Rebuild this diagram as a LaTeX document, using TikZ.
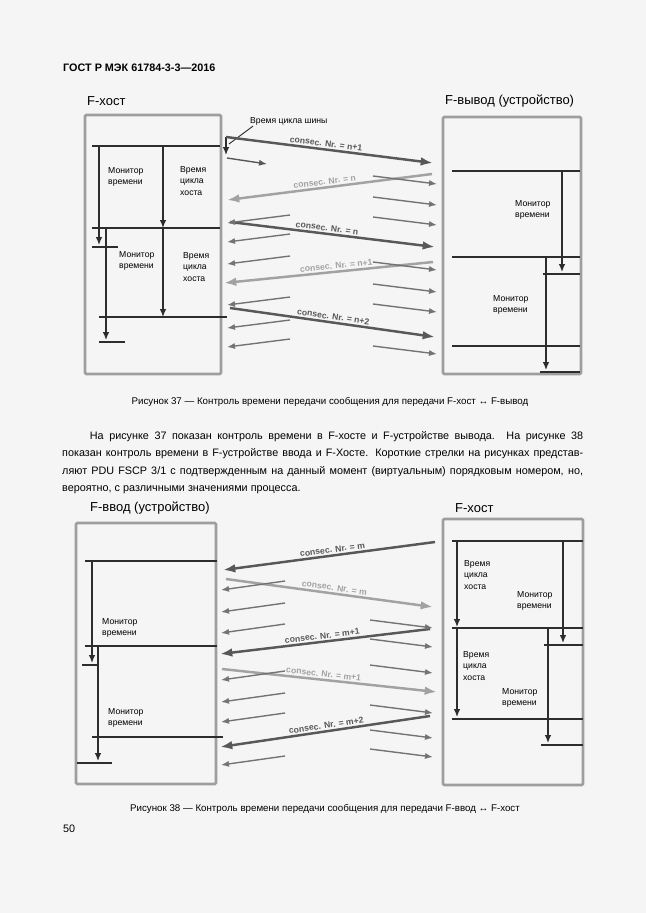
\documentclass[tikz,border=0pt]{standalone}
\usepackage{fontspec}
\setmainfont{Liberation Sans}
\usetikzlibrary{arrows.meta}

\definecolor{paper}{RGB}{245,245,245}
\definecolor{framegray}{RGB}{158,158,158}
\definecolor{inkdark}{RGB}{45,45,45}
\definecolor{msgdark}{RGB}{88,88,88}
\definecolor{msglight}{RGB}{162,162,162}
\definecolor{shortgray}{RGB}{115,115,115}

\begin{document}
\begin{tikzpicture}[x=0.325mm, y=-0.325mm,
  frame/.style={draw=framegray, line width=0.9mm, rounded corners=0.4mm},
  title/.style={font=\fontsize{12}{14}\selectfont, anchor=west, inner sep=0},
  bar/.style={draw=inkdark, line width=0.45mm},
  timer/.style={bar, -{Latex[length=2.6mm,width=2.2mm]}},
  lbl/.style={font=\fontsize{8}{10.5}\selectfont, align=left, anchor=west, inner sep=0},
  darkR/.style={draw=msgdark, line width=0.8mm, -{Latex[length=4mm,width=2.8mm]}},
  darkL/.style={draw=msgdark, line width=0.8mm, {Latex[length=4mm,width=2.8mm]}-},
  lightR/.style={draw=msglight, line width=0.8mm, -{Latex[length=4mm,width=2.8mm]}},
  lightL/.style={draw=msglight, line width=0.8mm, {Latex[length=4mm,width=2.8mm]}-},
  shortR/.style={draw=shortgray, line width=0.45mm, -{Latex[length=2.6mm,width=2mm]}},
  shortL/.style={draw=shortgray, line width=0.45mm, {Latex[length=2.6mm,width=2mm]}-},
  nr/.style={font=\bfseries\fontsize{8}{9.5}\selectfont, sloped, above=1pt, inner sep=0.5pt, text=msgdark},
  nrlight/.style={nr, text=msglight},
  capt/.style={font=\fontsize{9}{11}\selectfont, inner sep=0}
]
\useasboundingbox (0,0) rectangle (646,913);
\fill[paper] (0,0) rectangle (646,913);

\node[font=\bfseries\fontsize{10}{12}\selectfont, anchor=west, inner sep=0] (gost) at (63,68) {ГОСТ Р МЭК 61784-3-3—2016};

% figure 37
\node[title] (hostA) at (87,101) {F-хост};
\node[title] (outA) at (445,101) {F-вывод (устройство)};
\draw[frame] (85,115) rectangle (221,374);
\draw[frame] (443,117) rectangle (581,374);

% host side
\draw[bar] (92,146) -- (220,146);
\draw[timer] (99,146) -- (99,245);
\draw[bar] (92,247) -- (118,247);
\draw[timer] (163,146) -- (163,228);
\draw[bar] (92,228) -- (220,228);
\draw[timer] (106,228) -- (106,340);
\draw[bar] (99,342) -- (125,342);
\draw[timer] (163,228) -- (163,317);
\draw[bar] (99,317) -- (227,317);
\node[lbl] (monA1) at (108,177) {Монитор\\времени};
\node[lbl] (cycA1) at (180,181) {Время\\цикла\\хоста};
\node[lbl] (monA2) at (119,261) {Монитор\\времени};
\node[lbl] (cycA2) at (183,267) {Время\\цикла\\хоста};

% device side
\draw[bar] (452,171) -- (580,171);
\draw[timer] (562,171) -- (562,272);
\draw[bar] (543,274) -- (580,274);
\draw[bar] (452,257) -- (580,257);
\draw[timer] (546,257) -- (546,370);
\draw[bar] (540,372) -- (580,372);
\draw[bar] (452,346) -- (580,346);
\node[lbl] (monA3) at (515,210) {Монитор\\времени};
\node[lbl] (monA4) at (493,305) {Монитор\\времени};

% bus cycle
\node[lbl] (bus) at (250,121) {Время цикла шины};
\coordinate (busend) at (229,144);
\draw[draw=inkdark, line width=0.3mm] (bus.south west) ++(3,1) -- (busend);
\draw[timer] (226,137) -- (226,155);
\draw[shortR, draw=inkdark!80] (227,158) -- (267,164);

% messages
\draw[darkR] (226,137) -- node[nr, pos=0.48] {consec. Nr. = n+1} (433,163);
\draw[lightL] (227,200) -- node[nrlight, pos=0.48] {consec. Nr. = n} (432,174);
\draw[darkR] (230,222) -- node[nr, pos=0.47] {consec. Nr. = n} (435,247);
\draw[lightL] (224,283) -- node[nrlight, pos=0.54] {consec. Nr. = n+1} (433,262);
\draw[darkR] (230,308) -- node[nr, pos=0.5] {consec. Nr. = n+2} (435,337);

\foreach \y in {223,242,264,305,328,347}
  \draw[shortL] (227,\y) -- (290,\y-8);
\foreach \y in {184,205,225,270,292,312,354}
  \draw[shortR] (373,\y-8) -- (437,\y);

\node[capt] (cap37) at (330,402) {Рисунок 37 — Контроль времени передачи сообщения для передачи F-хост ↔ F-вывод};

\node[font=\fontsize{10}{16.1}\selectfont, text width=169.3mm, align=justify, anchor=north west, inner sep=0] (para) at (62,431)
{\hspace*{9mm}На рисунке 37 показан контроль времени в F-хосте и F-устройстве вывода. На рисунке 38\linebreak
показан контроль времени в F-устройстве ввода и F-Хосте. Короткие стрелки на рисунках представ-\linebreak
ляют PDU FSCP 3/1 с подтвержденным на данный момент (виртуальным) порядковым номером, но,\linebreak
вероятно, с различными значениями процесса.};

% figure 38
\node[title] (inB) at (90,508) {F-ввод (устройство)};
\node[title] (hostB) at (455,508) {F-хост};
\draw[frame] (76,523) rectangle (216,784);
\draw[frame] (443,519) rectangle (583,785);

% device side
\draw[bar] (85,561) -- (217,561);
\draw[timer] (92,561) -- (92,663);
\draw[bar] (82,665) -- (99,665);
\draw[bar] (85,646) -- (217,646);
\draw[timer] (98,646) -- (98,761);
\draw[bar] (77,763) -- (112,763);
\draw[bar] (92,737) -- (223,737);
\node[lbl] (monB1) at (102,628) {Монитор\\времени};
\node[lbl] (monB2) at (108,718) {Монитор\\времени};

% host side
\draw[bar] (452,541) -- (583,541);
\draw[timer] (457,541) -- (457,627);
\draw[timer] (563,541) -- (563,643);
\draw[bar] (544,645) -- (583,645);
\draw[bar] (452,628) -- (583,628);
\draw[timer] (548,628) -- (548,743);
\draw[bar] (541,745) -- (583,745);
\draw[timer] (457,628) -- (457,717);
\draw[bar] (452,719) -- (583,719);
\node[lbl] (cycB1) at (464,575) {Время\\цикла\\хоста};
\node[lbl] (monB3) at (517,601) {Монитор\\времени};
\node[lbl] (cycB2) at (463,666) {Время\\цикла\\хоста};
\node[lbl] (monB4) at (502,698) {Монитор\\времени};

% messages
\draw[darkL] (223,570) -- node[nr, pos=0.52] {consec. Nr. = m} (435,542);
\draw[lightR] (226,579) -- node[nrlight, pos=0.52] {consec. Nr. = m} (433,607);
\draw[darkL] (220,654) -- node[nr, pos=0.49] {consec. Nr. = m+1} (430,629);
\draw[lightR] (222,669) -- node[nrlight, pos=0.47] {consec. Nr. = m+1} (437,692);
\draw[darkL] (220,747) -- node[nr, pos=0.51] {consec. Nr. = m+2} (430,716);

\foreach \y in {590,612,633,680,702,722,765}
  \draw[shortL] (221,\y) -- (285,\y-9);
\foreach \y in {628,647,673,713,738,757}
  \draw[shortR] (370,\y-8) -- (433,\y);

\node[capt] (cap38) at (325,809) {Рисунок 38 — Контроль времени передачи сообщения для передачи F-ввод ↔ F-хост};
\node[font=\fontsize{10}{12}\selectfont, anchor=west, inner sep=0] (pageno) at (63,829) {50};
\end{tikzpicture}
\end{document}
